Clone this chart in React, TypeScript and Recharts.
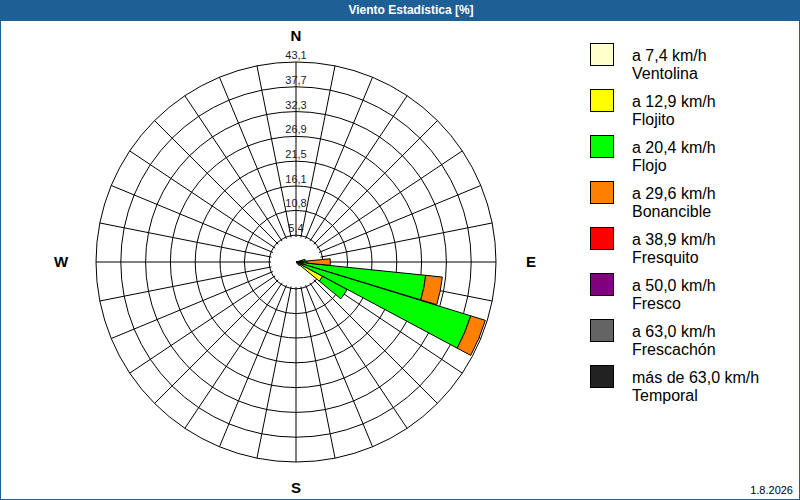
import React from 'react';
import { RadialBarChart, RadialBar, Cell, PolarGrid, PolarAngleAxis, PolarRadiusAxis } from 'recharts';

// 32 compass points, clockwise from N
const DIRECTIONS = [
  'N', 'NxE', 'NNE', 'NExN', 'NE', 'NExE', 'ENE', 'ExN',
  'E', 'ExS', 'ESE', 'SExE', 'SE', 'SExS', 'SSE', 'SxE',
  'S', 'SxW', 'SSW', 'SWxS', 'SW', 'SWxW', 'WSW', 'WxS',
  'W', 'WxN', 'WNW', 'NWxW', 'NW', 'NWxN', 'NNW', 'NxW',
];
const CARDINALS = ['N', 'E', 'S', 'W'];

const RADIUS_TICKS = [5.4, 10.8, 16.1, 21.5, 26.9, 32.3, 37.7, 43.1];
const RADIUS_MAX = 43.1;

const CLASS_KEYS = ['ventolina', 'flojito', 'flojo', 'bonancible', 'fresquito', 'fresco', 'frescachon', 'temporal'];
const CLASS_SPEEDS = ['a 7,4 km/h', 'a 12,9 km/h', 'a 20,4 km/h', 'a 29,6 km/h', 'a 38,9 km/h', 'a 50,0 km/h', 'a 63,0 km/h', 'más de 63,0 km/h'];
const CLASS_NAMES = ['Ventolina', 'Flojito', 'Flojo', 'Bonancible', 'Fresquito', 'Fresco', 'Frescachón', 'Temporal'];
const CLASS_COLORS = ['#ffffcc', '#ffff00', '#00ff00', '#ff8000', '#ff0000', '#800080', '#646464', '#222222'];

// percent of time per direction and speed class
const VENTOLINA = [0, 0, 0, 0, 0, 0, 0, 0.6, 0.5, 0.5, 0.4, 1.2, 0.4, 0, 0, 0, 0, 0, 0, 0, 0, 0, 0, 0, 0, 0, 0, 0, 0, 0, 0, 0];
const FLOJITO = [0, 0, 0, 0, 0, 0, 0, 0.8, 0.7, 1.0, 1.0, 5.3, 0.6, 0, 0, 0, 0, 0, 0, 0, 0, 0, 0, 0, 0, 0, 0, 0, 0, 0, 0, 0];
const FLOJO = [0, 0, 0, 0, 0, 0, 0, 0.6, 1.2, 26.6, 38.0, 6.0, 0, 0, 0, 0, 0, 0, 0, 0, 0, 0, 0, 0, 0, 0, 0, 0, 0, 0, 0, 0];
const BONANCIBLE = [0, 0, 0, 0, 0, 0, 0, 0, 5.0, 3.6, 3.3, 0, 0, 0, 0, 0, 0, 0, 0, 0, 0, 0, 0, 0, 0, 0, 0, 0, 0, 0, 0, 0];
const FRESQUITO = [0, 0, 0, 0, 0, 0, 0, 0, 0, 0, 0, 0, 0, 0, 0, 0, 0, 0, 0, 0, 0, 0, 0, 0, 0, 0, 0, 0, 0, 0, 0, 0];
const FRESCO = [0, 0, 0, 0, 0, 0, 0, 0, 0, 0, 0, 0, 0, 0, 0, 0, 0, 0, 0, 0, 0, 0, 0, 0, 0, 0, 0, 0, 0, 0, 0, 0];
const FRESCACHON = [0, 0, 0, 0, 0, 0, 0, 0, 0, 0, 0, 0, 0, 0, 0, 0, 0, 0, 0, 0, 0, 0, 0, 0, 0, 0, 0, 0, 0, 0, 0, 0];
const TEMPORAL = [0, 0, 0, 0, 0, 0, 0, 0, 0, 0, 0, 0, 0, 0, 0, 0, 0, 0, 0, 0, 0, 0, 0, 0, 0, 0, 0, 0, 0, 0, 0, 0];

const SERIES = [VENTOLINA, FLOJITO, FLOJO, BONANCIBLE, FRESQUITO, FRESCO, FRESCACHON, TEMPORAL];

const data = DIRECTIONS.map((dir, i) => {
  const row: any = { dir };
  CLASS_KEYS.forEach((k, s) => { row[k] = SERIES[s][i]; });
  return row;
});

const CX = 296;
const CY = 262;
const OUTER = 200;
const HOLE = 25;
const BLUE = '#1e5f96';
const FONT = '"Liberation Sans", Arial, sans-serif';

const fmt = (v: number) => v.toFixed(1).replace('.', ',');

const CompassTick = (props: any) => {
  const { x, y, payload } = props;
  if (!CARDINALS.includes(payload.value)) return null;
  const dx = x - CX;
  const dy = y - CY;
  const len = Math.hypot(dx, dy) || 1;
  const r = OUTER + 26 + 9 * Math.abs(dx / len);
  return (
    <text x={CX + (dx / len) * r} y={CY + (dy / len) * r} dy="0.36em" textAnchor="middle"
      fontFamily={FONT} fontWeight="bold" fontSize={15} fill="#000">
      {payload.value}
    </text>
  );
};

const RingTick = ({ x, y, payload }: any) => (
  <text x={x} y={y - 3} textAnchor="middle" fontFamily={FONT} fontSize={11} fill="#1a1a2a">
    {fmt(payload.value)}
  </text>
);

const layer: React.CSSProperties = { position: 'absolute', left: 0, top: 0 };

export default function App() {
  return (
    <div style={{ position: 'absolute', left: 0, top: 0, width: 800, height: 500, background: '#fff', overflow: 'hidden' }}>
      <div style={{ position: 'absolute', left: 0, top: 0, width: 800, height: 21, background: BLUE }} />
      <div style={{ position: 'absolute', left: 0, top: 0, width: 800, height: 500, border: `1px solid ${BLUE}`, boxSizing: 'border-box' }} />
      <div style={{ position: 'absolute', left: 0, top: 0, width: 822, height: 21, lineHeight: '21px', textAlign: 'center', color: '#fff', fontFamily: FONT, fontWeight: 'bold', fontSize: 12 }}>
        Viento Estadística [%]
      </div>

      {/* grid layer: rings and spokes start at the 5,4 circle */}
      <div style={layer}>
        <RadialBarChart width={800} height={500} data={data} cx={CX} cy={CY}
          innerRadius={HOLE} outerRadius={OUTER} startAngle={90} endAngle={-270}
          layout="centric" margin={{ top: 0, right: 0, bottom: 0, left: 0 }}>
          <PolarGrid gridType="circle" stroke="#000" strokeWidth={1} />
          <PolarAngleAxis type="category" dataKey="dir" axisLine={false} tickLine={false} tick={<CompassTick />} />
          <PolarRadiusAxis type="number" angle={90} domain={[RADIUS_MAX / 8, RADIUS_MAX]} ticks={RADIUS_TICKS}
            allowDataOverflow axisLine={false} tickLine={false} tick={<RingTick />} />
        </RadialBarChart>
      </div>

      {/* bars layer: sectors from the centre */}
      <div style={layer}>
        <RadialBarChart width={800} height={500} data={data} cx={CX} cy={CY}
          innerRadius={0} outerRadius={OUTER} startAngle={84.375} endAngle={-275.625}
          layout="centric" barCategoryGap="0%" barGap={0}
          margin={{ top: 0, right: 0, bottom: 0, left: 0 }}>
          <PolarAngleAxis type="category" dataKey="dir" axisLine={false} tickLine={false} tick={false} />
          <PolarRadiusAxis type="number" domain={[0, RADIUS_MAX]} allowDataOverflow
            axisLine={false} tickLine={false} tick={false} />
          {CLASS_KEYS.map((k, i) => (
            <RadialBar key={k} dataKey={k} stackId="a" fill={CLASS_COLORS[i]} isAnimationActive={false}>
              {SERIES[i].map((v, j) => (
                <Cell key={`c-${j}`} fill={CLASS_COLORS[i]} stroke={v > 0 ? '#000' : 'none'} strokeWidth={1} />
              ))}
            </RadialBar>
          ))}
        </RadialBarChart>
      </div>

      <div style={{ position: 'absolute', left: 590, top: 43, fontFamily: FONT, fontSize: 16, lineHeight: '18px', color: '#000' }}>
        {CLASS_KEYS.map((k, i) => (
          <div key={k} style={{ position: 'relative', height: 46 }}>
            <div style={{ position: 'absolute', left: 0, top: 0, width: 24, height: 23, background: CLASS_COLORS[i], border: '1px solid #000', boxSizing: 'border-box' }} />
            <div style={{ position: 'absolute', left: 42, top: 4, whiteSpace: 'nowrap' }}>
              <div>{CLASS_SPEEDS[i]}</div>
              <div>{CLASS_NAMES[i]}</div>
            </div>
          </div>
        ))}
      </div>
      <div style={{ position: 'absolute', right: 7, top: 484, fontFamily: FONT, fontSize: 11, color: '#000' }}>1.8.2026</div>
    </div>
  );
}
